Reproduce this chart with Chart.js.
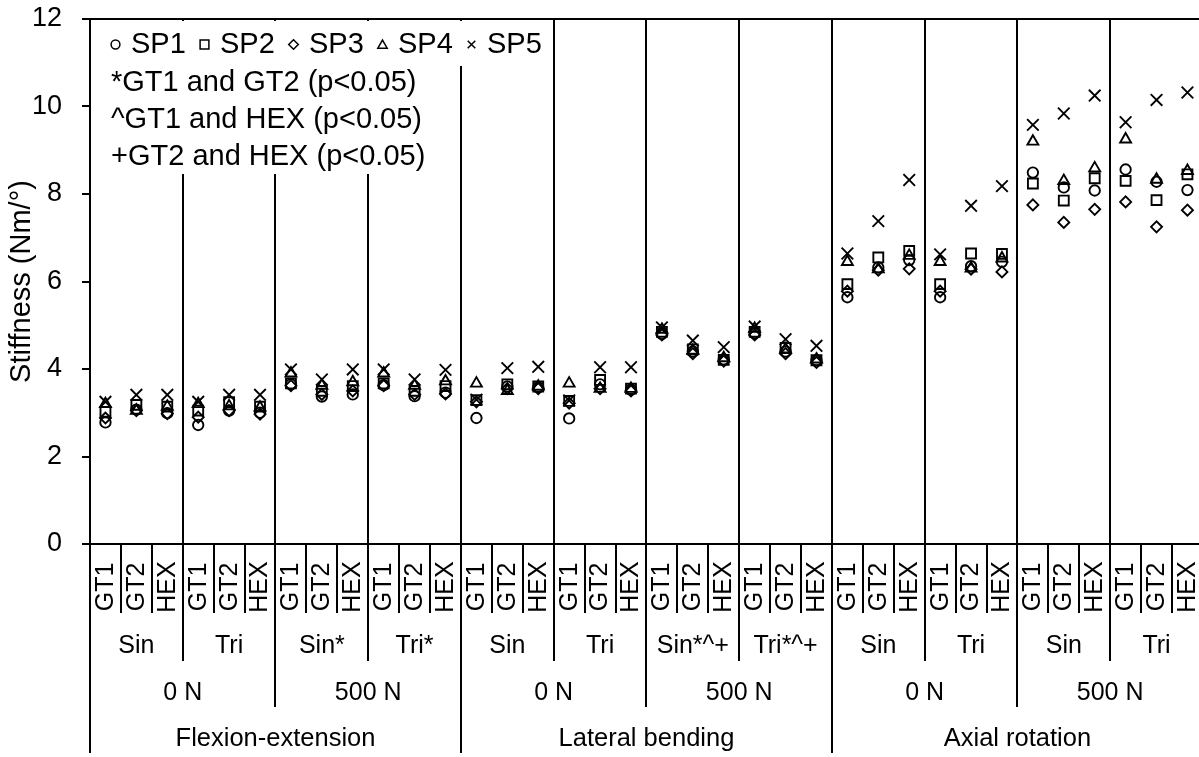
<!DOCTYPE html>
<html>
<head>
<meta charset="utf-8">
<script src="https://cdn.jsdelivr.net/npm/chart.js@4"></script>
<style>
html,body{margin:0;padding:0;background:#fff;overflow:hidden;}
#wrap{width:1199px;height:757px;overflow:hidden;position:relative;}
canvas{display:block;}
</style>
</head>
<body>
<div id="wrap"><canvas id="c" width="1213" height="757"></canvas></div>
<script>
// ---- data ----
const implants = ['GT1','GT2','HEX'];
const waveLabels = ['Sin','Tri','Sin*','Tri*','Sin','Tri','Sin*^+','Tri*^+','Sin','Tri','Sin','Tri'];
const loadLabels = ['0 N','500 N','0 N','500 N','0 N','500 N'];
const motionLabels = ['Flexion-extension','Lateral bending','Axial rotation'];
const categories = [];
for (let g = 0; g < waveLabels.length; g++) for (const im of implants) categories.push(im);

const seriesNames = ['SP1','SP2','SP3','SP4','SP5'];
const sp1 = [2.78,3.07,2.99, 2.72,3.05,3.00, 3.65,3.37,3.42, 3.63,3.38,3.46,
             2.88,3.60,3.58, 2.87,3.65,3.53, 4.80,4.40,4.22, 4.82,4.40,4.20,
             5.64,6.32,6.49, 5.64,6.35,6.45, 8.49,8.15,8.08, 8.56,8.28,8.09];
const sp2 = [3.02,3.18,3.14, 3.05,3.24,3.14, 3.67,3.50,3.61, 3.67,3.50,3.61,
             3.29,3.65,3.60, 3.27,3.75,3.55, 4.85,4.45,4.21, 4.85,4.48,4.20,
             5.94,6.55,6.70, 5.94,6.64,6.63, 8.24,7.85,8.36, 8.30,7.86,8.45];
const sp3 = [2.88,3.05,2.98, 2.90,3.05,2.97, 3.62,3.42,3.50, 3.62,3.42,3.43,
             3.25,3.55,3.55, 3.22,3.55,3.50, 4.78,4.35,4.18, 4.78,4.35,4.15,
             5.78,6.26,6.29, 5.78,6.28,6.22, 7.75,7.35,7.65, 7.82,7.25,7.63];
const sp4 = [3.20,3.05,3.14, 3.20,3.15,3.12, 3.90,3.62,3.70, 3.90,3.62,3.72,
             3.67,3.50,3.60, 3.67,3.55,3.55, 4.90,4.42,4.25, 4.92,4.45,4.22,
             6.45,6.28,6.59, 6.45,6.30,6.53, 9.20,8.30,8.59, 9.25,8.33,8.53];
const sp5 = [3.25,3.41,3.41, 3.25,3.41,3.41, 3.99,3.76,3.99, 3.99,3.76,3.98,
             3.30,4.02,4.05, 3.28,4.04,4.04, 4.95,4.65,4.50, 4.97,4.68,4.53,
             6.64,7.38,8.32, 6.62,7.73,8.18, 9.58,9.84,10.25, 9.64,10.15,10.32];
const yTicks = [0,2,4,6,8,10,12];
const yTitle = 'Stiffness (Nm/°)';
const noteLines = ['*GT1 and GT2 (p<0.05)','^GT1 and HEX (p<0.05)','+GT2 and HEX (p<0.05)'];

// ---- styles ----
const FONT = "'Liberation Sans', Arial, sans-serif";
const styles = [
  {pointStyle:'circle', r:5.2},
  {pointStyle:'rect', r:7},
  {pointStyle:'rectRot', r:5.5},
  {pointStyle:'triangle', r:6.3},
  {pointStyle:'crossRot', r:8.2}
];
const allSeries = [sp1,sp2,sp3,sp4,sp5];

const datasets = allSeries.map((d,i)=>({
  label: seriesNames[i],
  data: d,
  showLine: false,
  pointStyle: styles[i].pointStyle,
  pointRadius: styles[i].r,
  pointHoverRadius: styles[i].r,
  pointBorderWidth: 1.9,
  borderColor: '#000',
  pointBorderColor: '#000',
  backgroundColor: 'rgba(0,0,0,0)',
  pointBackgroundColor: 'rgba(0,0,0,0)'
}));

function marker(ctx, style, r, x, y) {
  ctx.beginPath();
  if (style === 'circle') {
    ctx.arc(x, y, r, 0, Math.PI*2);
  } else if (style === 'rect') {
    ctx.rect(x - r, y - r, 2*r, 2*r);
  } else if (style === 'rectRot') {
    ctx.moveTo(x, y - r); ctx.lineTo(x + r, y); ctx.lineTo(x, y + r); ctx.lineTo(x - r, y); ctx.closePath();
  } else if (style === 'triangle') {
    ctx.moveTo(x, y - r); ctx.lineTo(x + r*0.866, y + r*0.5); ctx.lineTo(x - r*0.866, y + r*0.5); ctx.closePath();
  } else if (style === 'crossRot') {
    ctx.moveTo(x - r, y - r); ctx.lineTo(x + r, y + r);
    ctx.moveTo(x + r, y - r); ctx.lineTo(x - r, y + r);
  }
  ctx.stroke();
}

const overlay = {
  id: 'overlay',
  afterDraw(chart) {
    const ctx = chart.ctx;
    const xs = chart.scales.x;
    const ca = chart.chartArea;
    const N = categories.length;
    const px = i => xs.getPixelForValue(i);
    const bnd = i => i === 0 ? px(0) - (px(1)-px(0))/2 : (i === N ? px(N-1) + (px(N-1)-px(N-2))/2 : (px(i-1)+px(i))/2);
    ctx.save();
    // separators below axis
    ctx.strokeStyle = '#000';
    ctx.lineWidth = 2;
    for (let i = 0; i <= N; i++) {
      const len = i % 12 === 0 ? 753 : (i % 6 === 0 ? 707 : (i % 3 === 0 ? 661 : 613));
      const x = Math.round(bnd(i));
      ctx.beginPath();
      ctx.moveTo(x, ca.bottom);
      ctx.lineTo(x, len);
      ctx.stroke();
    }
    ctx.fillStyle = '#000';
    ctx.textBaseline = 'middle';
    ctx.textAlign = 'center';
    ctx.font = '25px ' + FONT;
    for (let i = 0; i < N; i++) {
      ctx.save();
      ctx.translate(px(i) + 0.5, 587);
      ctx.rotate(-Math.PI/2);
      ctx.fillText(categories[i], 0, 0);
      ctx.restore();
    }
    waveLabels.forEach((t,g) => ctx.fillText(t, (bnd(3*g)+bnd(3*g+3))/2, 646));
    loadLabels.forEach((t,g) => ctx.fillText(t, (bnd(6*g)+bnd(6*g+6))/2, 693));
    ctx.font = '25.5px ' + FONT;
    motionLabels.forEach((t,g) => ctx.fillText(t, (bnd(12*g)+bnd(12*g+12))/2, 739));

    // legend boxes
    ctx.fillStyle = '#fff';
    ctx.fillRect(ca.left + 1.5, ca.top + 2, 458, 45);
    ctx.fillRect(ca.left + 1.5, ca.top + 2, 360, 153);
    // legend markers and text
    ctx.fillStyle = '#000';
    ctx.strokeStyle = '#000';
    ctx.lineWidth = 1.5;
    ctx.font = '29px ' + FONT;
    ctx.textAlign = 'left';
    const rowY = [44.5, 82.5, 119.5, 156.5];
    const legR = [4.4, 4.4, 4.8, 5.4, 3.8];
    for (let i = 0; i < 5; i++) {
      const mx = 115.5 + 89*i;
      marker(ctx, styles[i].pointStyle, legR[i], mx, rowY[0] + (i === 3 ? 1 : 0));
      ctx.fillText(seriesNames[i], mx + 15.5, rowY[0]);
    }
    noteLines.forEach((t,k) => ctx.fillText(t, 111, rowY[k+1]));
    ctx.restore();
  }
};

new Chart(document.getElementById('c'), {
  type: 'line',
  data: { labels: categories, datasets },
  plugins: [overlay],
  options: {
    responsive: false,
    animation: false,
    events: [],
    layout: { padding: { top: 19, left: 0, right: 1, bottom: 0 } },
    plugins: { legend: { display: false }, tooltip: { enabled: false } },
    scales: {
      x: {
        type: 'category',
        offset: true,
        grid: {
          offset: true,
          drawTicks: false,
          lineWidth: 2,
          color: c => (c.index % 3 === 0 && c.index > 0 && c.index < categories.length) ? '#000' : 'rgba(0,0,0,0)'
        },
        border: { display: true, color: '#000', width: 2 },
        ticks: { display: false },
        afterFit: s => { s.height = 213; s.paddingLeft = 0; s.paddingRight = 0; }
      },
      y: {
        min: yTicks[0],
        max: yTicks[yTicks.length-1],
        afterBuildTicks: s => { s.ticks = yTicks.map(v => ({value: v})); },
        ticks: { color: '#000', padding: 20, font: { size: 27, family: FONT } },
        grid: {
          lineWidth: 2,
          tickLength: 8,
          tickWidth: 2,
          tickColor: '#000',
          color: c => (c.tick && c.tick.value === 12) ? '#000' : 'rgba(0,0,0,0)'
        },
        border: { display: true, color: '#000', width: 2 },
        title: { display: true, text: yTitle, color: '#000', font: { size: 29, family: FONT }, padding: { top: 5, bottom: 0 } },
        afterFit: s => { s.width = 90; s.paddingTop = 0; s.paddingBottom = 0; }
      }
    }
  }
});
</script>
</body>
</html>
